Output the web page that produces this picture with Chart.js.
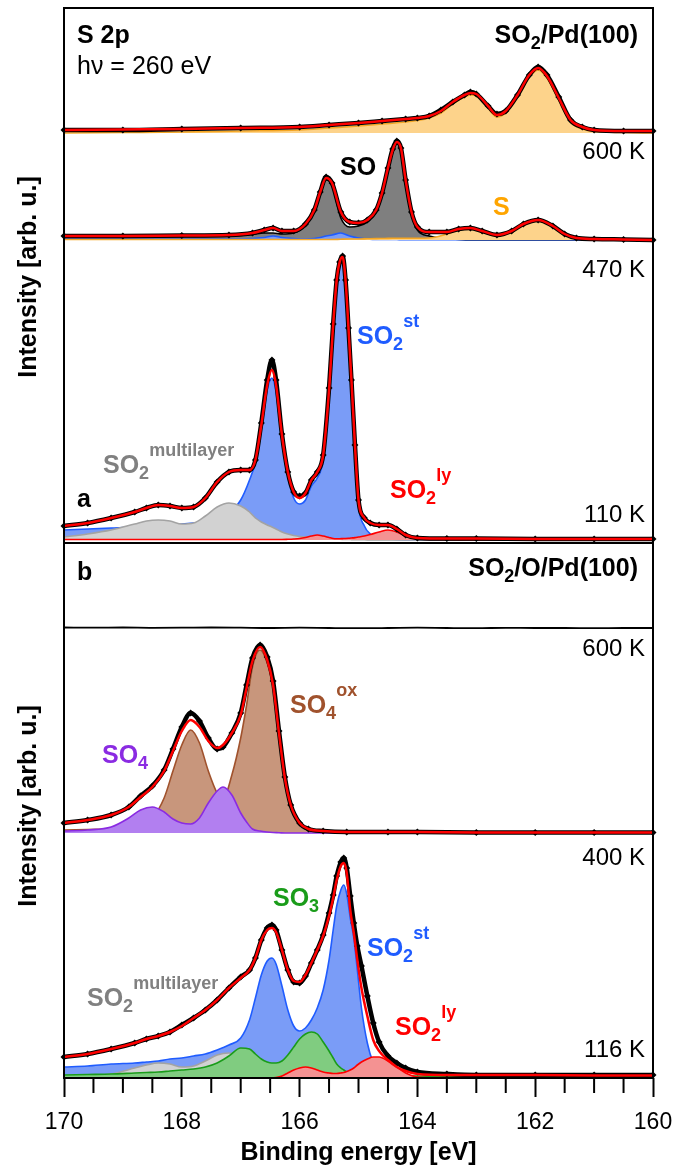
<!DOCTYPE html>
<html>
<head>
<meta charset="utf-8">
<title>S 2p XPS – SO2 on Pd(100)</title>
<script src="https://cdn.jsdelivr.net/npm/chart.js@4.4.1/dist/chart.umd.min.js"></script>
<style>
  html, body { margin: 0; padding: 0; background: #fff; }
  #xps { display: block; }
</style>
</head>
<body>
<canvas id="xps" width="675" height="1166"></canvas>
<script>
// Binding energies (eV) and intensities (arb. u., height above each spectrum's own baseline)

// (a) SO2/Pd(100), top spectrum: atomic S only
const eA1 = [170, 169, 168, 167, 166, 165.5, 165, 164.6, 164.2, 164, 163.8, 163.6, 163.4, 163.2, 163.1, 163, 162.8, 162.65, 162.5, 162.3, 162.1, 161.95, 161.8, 161.6, 161.4, 161.2, 161, 160.5, 160];
const a1Data = [3, 3, 4, 5, 6, 8, 10, 12, 14, 15, 17, 23, 31, 38, 41, 39, 27, 19, 22, 38, 58, 66, 58, 36, 13, 6, 3, 2, 2];
const a1Fit = [3, 3.5, 4, 5, 6, 8, 10, 12, 14, 15, 17, 22, 31, 38, 40, 39, 27, 18, 22, 38, 58, 65, 57, 35, 13, 6, 3, 2, 2];
const a1S = [0, 0.5, 1, 2, 3, 5, 7, 9, 11, 12.5, 15, 20, 29, 36, 38, 37, 25, 16, 20, 36, 56, 63, 55, 33, 11, 4, 1.5, 0.5, 0];

// (a) 600 K: SO + S
const eA2 = [170, 169, 168, 167.2, 166.8, 166.6, 166.45, 166.3, 166.1, 165.9, 165.75, 165.65, 165.55, 165.45, 165.3, 165.15, 165, 164.85, 164.7, 164.6, 164.5, 164.42, 164.35, 164.28, 164.2, 164.1, 164, 163.8, 163.5, 163.3, 163.1, 162.9, 162.65, 162.4, 162.2, 161.95, 161.7, 161.5, 161.3, 161, 160.5, 160];
const a2Data = [4, 4, 4.5, 5, 7, 10, 12, 9, 9, 16, 30, 48, 63, 57, 28, 18, 17, 20, 30, 47, 72, 91, 99, 92, 60, 28, 13, 8, 8, 11, 12, 9, 5, 9, 16, 20, 14, 6, 2, 1, 0.5, 0];
const a2Fit = [4, 4, 4.5, 5, 7, 10, 12, 9, 9, 16, 30, 48, 62, 57, 28, 18, 17, 20, 30, 47, 72, 90, 98, 92, 60, 28, 13, 8, 8, 11, 12, 9, 5, 9, 16, 20, 14, 6, 2, 1, 0.5, 0];
const a2SO = [3, 3, 3.5, 4, 5.5, 7, 7, 6, 7, 15, 29, 46, 60, 55, 22, 13, 14, 18, 28, 45, 70, 88, 96, 90, 58, 26, 10, 4, 1.5, 0.5, 0, 0, 0, 0, 0, 0, 0, 0, 0, 0, 0, 0];
const a2St = [1, 1, 1, 1, 1.5, 2.5, 4, 2.5, 1.5, 1, 1.5, 2.5, 4, 5, 7, 4, 2, 1, 0.5, 0.5, 0.5, 0.5, 0.5, 0.3, 0.2, 0.2, 0.2, 0.2, 0.2, 0.2, 0.2, 0.2, 0.2, 0.2, 0.2, 0.2, 0.2, 0.2, 0.2, 0.2, 0.2, 0.2];
const a2S = [0.5, 0.5, 0.5, 0.5, 0.5, 0.5, 0.5, 0.5, 0.5, 0.5, 0.5, 0.5, 0.5, 0.5, 0.8, 1, 1, 1.2, 1.4, 1.5, 1.6, 1.7, 1.8, 1.8, 1.8, 1.8, 1.8, 2, 6, 10, 11, 8, 4, 8, 15, 19, 13, 5, 1.5, 0.5, 0.2, 0];

// (a) 110 K -> 470 K: SO2 species
const eA3 = [170, 169.6, 169.2, 168.8, 168.6, 168.4, 168.2, 168, 167.8, 167.6, 167.4, 167.2, 167, 166.85, 166.75, 166.65, 166.55, 166.47, 166.4, 166.3, 166.2, 166.1, 166, 165.9, 165.8, 165.7, 165.6, 165.5, 165.43, 165.37, 165.32, 165.27, 165.22, 165.17, 165.12, 165.06, 165, 164.9, 164.8, 164.65, 164.5, 164.35, 164.2, 164, 163.5, 163, 162, 161, 160];
const a3Data = [14, 17, 22, 28, 32, 35, 34, 32, 33, 42, 58, 68, 70, 70, 80, 117, 160, 180, 160, 106, 68, 48, 44, 47, 60, 68, 85, 152, 216, 260, 278, 284, 260, 212, 160, 95, 40, 22, 17, 15, 15, 11, 5, 2, 1.5, 1.5, 1, 1, 1];
const a3Fit = [14, 17, 22, 28, 32, 35, 34, 32, 33, 42, 58, 68, 70, 70, 80, 115, 155, 170, 155, 105, 68, 48, 42, 47, 60, 68, 85, 150, 215, 260, 278, 283, 260, 212, 160, 95, 40, 22, 17, 15, 15, 11, 5, 2, 1.5, 1.5, 1, 1, 1];
const a3St = [10, 11, 12, 13, 14, 15, 15, 16, 17, 18, 21, 27, 40, 60, 78, 112, 150, 162, 148, 100, 64, 42, 36, 40, 54, 62, 80, 145, 210, 255, 274, 280, 256, 208, 155, 90, 35, 14, 6, 2, 1, 0.5, 0.3, 0.2, 0, 0, 0, 0, 0];
const a3Multi = [3, 6, 10, 16, 19, 20, 19, 16, 17, 24, 33, 37, 34, 28, 22, 18, 15, 13, 11, 8, 6, 4.5, 3.5, 3, 2.5, 2, 1.5, 1, 1, 0.8, 0.7, 0.6, 0.5, 0.5, 0.4, 0.3, 0.2, 0.2, 0, 0, 0, 0, 0, 0, 0, 0, 0, 0, 0];
const a3Ly = [0.5, 0.5, 0.5, 0.5, 0.5, 0.5, 0.5, 0.5, 0.5, 0.5, 0.5, 0.5, 0.5, 0.5, 0.5, 0.5, 0.5, 0.5, 0.5, 0.5, 0.7, 1, 1.5, 2.5, 4, 5, 4, 2.5, 1.5, 1.3, 1.3, 1.4, 1.5, 1.7, 2, 2.4, 3, 4, 5.5, 8, 10, 8, 4, 1, 0.3, 0, 0, 0, 0];

// (b) SO2/O/Pd(100), top: nothing left
const eB1 = [170, 169.5, 169, 168.5, 168, 167.5, 167, 166.5, 166, 165.5, 165, 164.5, 164, 163.5, 163, 162.5, 162, 161.5, 161, 160.5, 160];
const b1Data = [0.5, 0.3, 0.5, 0.2, 0.3, 0.5, 0.3, 0, 0.3, 0, -0.2, 0, 0.3, 0, -0.2, 0.2, 0, 0, -0.2, 0, 0];

// (b) 600 K: sulfate
const eB2 = [170, 169.6, 169.2, 168.9, 168.7, 168.5, 168.3, 168.15, 168, 167.85, 167.7, 167.55, 167.4, 167.3, 167.15, 167, 166.9, 166.8, 166.67, 166.55, 166.45, 166.35, 166.25, 166.15, 166, 165.85, 165.6, 165.2, 164.5, 164, 163, 162, 161, 160];
const b2Data = [10, 13, 18, 26, 37, 47, 63, 84, 106, 120, 112, 95, 84, 86, 100, 120, 148, 175, 188, 176, 152, 102, 56, 28, 10, 4, 2, 1, 1, 1, 0.5, 0.5, 0.5, 0.5];
const b2Fit = [10, 13, 18, 26, 36, 46, 62, 82, 102, 113, 106, 92, 85, 88, 100, 118, 145, 172, 186, 173, 148, 100, 55, 28, 10, 4, 2, 1, 1, 1, 0.5, 0.5, 0.5, 0.5];
const b2Ox = [3, 3.5, 4, 5, 8, 15, 35, 62, 88, 103, 90, 62, 40, 34, 58, 95, 128, 166, 183, 170, 146, 98, 53, 26, 9, 3, 1.5, 0.5, 0, 0, 0, 0, 0, 0];
const b2So4 = [2, 3, 6, 15, 23, 26, 21, 14, 10, 9, 15, 30, 42, 46, 38, 20, 11, 4, 2, 1, 0.5, 0.3, 0, 0, 0, 0, 0, 0, 0, 0, 0, 0, 0, 0];

// (b) 116 K -> 400 K
const eB3 = [170, 169.6, 169.2, 168.8, 168.6, 168.4, 168.2, 168, 167.8, 167.6, 167.4, 167.2, 167, 166.85, 166.75, 166.65, 166.55, 166.47, 166.4, 166.3, 166.2, 166.1, 166, 165.9, 165.8, 165.7, 165.6, 165.5, 165.43, 165.37, 165.3, 165.25, 165.2, 165.14, 165.08, 165.02, 164.95, 164.85, 164.75, 164.65, 164.5, 164.35, 164.2, 164, 163.5, 163, 162, 161, 160];
const b3Data = [21, 24, 29, 35, 39, 42, 46, 53, 60, 68, 78, 90, 101, 108, 120, 138, 150, 153, 148, 128, 108, 96, 95, 102, 115, 128, 143, 165, 183, 202, 216, 220, 210, 182, 155, 132, 112, 82, 55, 36, 22, 15, 10, 6, 4, 3, 3, 3, 3];
const b3Fit = [21, 24, 29, 35, 39, 42, 46, 52, 60, 68, 78, 90, 100, 108, 120, 138, 148, 150, 146, 128, 108, 97, 96, 103, 115, 128, 142, 162, 180, 198, 212, 215, 205, 168, 145, 118, 90, 62, 38, 27, 18, 11, 7, 4, 3, 3, 3, 2.5, 2.5];
const b3St = [11, 12, 14, 15, 16, 17, 19, 20, 22, 24, 28, 33, 40, 58, 80, 103, 117, 120, 114, 92, 68, 52, 47, 50, 58, 70, 88, 118, 148, 172, 188, 193, 184, 160, 140, 108, 70, 35, 15, 6, 2, 1, 0.5, 0.3, 0, 0, 0, 0, 0];
const b3So3 = [3, 3.5, 4, 5, 5.5, 6, 7, 8, 9, 11, 15, 22, 30, 29, 24, 19, 16, 15, 15, 17, 23, 31, 39, 44, 46, 44, 36, 27, 20, 14, 10, 8, 6, 5, 4, 3.5, 3, 2.5, 2.5, 2, 2, 2, 2, 2, 1.5, 1.5, 1, 0.5, 0.5];
const b3Ly = [0, 0, 0, 0, 0, 0, 0, 0, 0, 0, 0, 0, 0, 0, 0, 0, 0, 0, 0.5, 2, 5, 8, 10, 11, 10, 8, 6, 5, 4.5, 4.5, 5, 5.5, 6.5, 8, 10, 13, 16, 19, 21, 21, 17, 11, 5, 1, 0, 0, 0, 0, 0];
const b3Multi = [1, 2, 4, 10, 13, 15, 14, 11, 12, 17, 23, 25, 21, 15, 11, 7, 5, 4, 3, 2, 1, 0.5, 0, 0, 0, 0, 0, 0, 0, 0, 0, 0, 0, 0, 0, 0, 0, 0, 0, 0, 0, 0, 0, 0, 0, 0, 0, 0, 0];

// x axis
const eMin = 160, eMax = 170, eStep = 2;

// vertical offset of each spectrum in the stack
const offsets = { a1: 945, a2: 838, a3: 538, b1: 450, b2: 245, b3: 0 };

const FONT = '"Liberation Sans", Arial, Helvetica, sans-serif';
const colors = {
    fit: '#ff0000',
    st: { line: '#1f5cff', fill: 'rgb(122,156,247)' },
    multi: { line: '#a3a3a3', fill: '#d2d2d2' },
    ly: { line: '#ff0000', fill: '#f49292' },
    so: { line: '#000000', fill: '#7f7f7f' },
    s: { line: '#f5a623', fill: '#fdd38b' },
    ox: { line: '#a0522d', fill: '#c8967c' },
    so4: { line: '#8a2be2', fill: '#b27ff0' },
    so3: { line: '#1a9c1a', fill: '#80cc80' }
};

function toPoints(energies, values, offset) {
    return energies.map((e, i) => ({ x: e, y: offset + values[i] }));
}

function measured(energies, values, offset) {
    return {
        data: toPoints(energies, values, offset),
        borderColor: '#000',
        borderWidth: 4.5,
        pointStyle: 'rectRot',
        pointRadius: 3.5,
        pointBackgroundColor: '#000',
        pointBorderWidth: 0,
        fill: false,
        clip: 5,
        order: 1
    };
}

function envelope(energies, values, offset) {
    return {
        data: toPoints(energies, values, offset),
        borderColor: colors.fit,
        borderWidth: 2.5,
        pointRadius: 0,
        fill: false,
        order: 0
    };
}

function component(energies, values, offset, style, order) {
    return {
        data: toPoints(energies, values, offset),
        borderColor: style.line,
        backgroundColor: style.fill,
        borderWidth: 1.6,
        pointRadius: 0,
        fill: { value: offset },
        order: order
    };
}

const datasets = [
    // (a)
    envelope(eA1, a1Fit, offsets.a1),
    measured(eA1, a1Data, offsets.a1),
    component(eA1, a1S, offsets.a1, colors.s, 2),

    envelope(eA2, a2Fit, offsets.a2),
    measured(eA2, a2Data, offsets.a2),
    component(eA2, a2S, offsets.a2, colors.s, 2),
    component(eA2, a2St, offsets.a2, colors.st, 3),
    component(eA2, a2SO, offsets.a2, colors.so, 4),

    envelope(eA3, a3Fit, offsets.a3),
    measured(eA3, a3Data, offsets.a3),
    component(eA3, a3Ly, offsets.a3, colors.ly, 2),
    component(eA3, a3Multi, offsets.a3, colors.multi, 3),
    component(eA3, a3St, offsets.a3, colors.st, 4),

    // (b)
    {
        data: toPoints(eB1, b1Data, offsets.b1),
        borderColor: '#000',
        borderWidth: 1.8,
        pointRadius: 0,
        fill: false,
        order: 1
    },

    envelope(eB2, b2Fit, offsets.b2),
    measured(eB2, b2Data, offsets.b2),
    component(eB2, b2So4, offsets.b2, colors.so4, 2),
    component(eB2, b2Ox, offsets.b2, colors.ox, 3),

    envelope(eB3, b3Fit, offsets.b3),
    measured(eB3, b3Data, offsets.b3),
    component(eB3, b3Ly, offsets.b3, colors.ly, 2),
    component(eB3, b3So3, offsets.b3, colors.so3, 3),
    component(eB3, b3Multi, offsets.b3, colors.multi, 4),
    component(eB3, b3St, offsets.b3, colors.st, 5)
];

// label with sub/superscripts: parts = [[text, ''|'sub'|'sup'], ...]
function chemWidth(ctx, parts, size, small) {
    let w = 0;
    parts.forEach(([t, kind]) => {
        ctx.font = 'bold ' + (kind ? small : size) + 'px ' + FONT;
        w += ctx.measureText(t).width;
    });
    return w;
}

function chem(ctx, x, y, parts, color, size = 25, small = 18) {
    ctx.fillStyle = color;
    ctx.textAlign = 'left';
    ctx.textBaseline = 'middle';
    let cx = x;
    parts.forEach(([t, kind]) => {
        ctx.font = 'bold ' + (kind ? small : size) + 'px ' + FONT;
        const dy = kind === 'sub' ? 8 : kind === 'sup' ? -15 : 0;
        ctx.fillText(t, cx, y + dy);
        cx += ctx.measureText(t).width;
    });
}

function text(ctx, str, x, y, font, align = 'left', color = '#000') {
    ctx.font = font;
    ctx.fillStyle = color;
    ctx.textAlign = align;
    ctx.textBaseline = 'middle';
    ctx.fillText(str, x, y);
}

const decorations = {
    id: 'decorations',
    afterDraw(chart) {
        const ctx = chart.ctx;
        const { left, right, top, bottom } = chart.chartArea;
        const xs = chart.scales.x;
        ctx.save();

        // minor ticks every 0.5 eV
        ctx.strokeStyle = '#000';
        ctx.lineWidth = 2;
        for (let e = eMin + 0.5; e < eMax; e += 0.5) {
            if (e % eStep === 0) continue;
            const px = xs.getPixelForValue(e);
            ctx.beginPath();
            ctx.moveTo(px, bottom);
            ctx.lineTo(px, bottom + 15);
            ctx.stroke();
        }

        // frame and panel divider
        ctx.strokeRect(left, top, right - left, bottom - top);
        ctx.beginPath();
        ctx.moveTo(left, 543);
        ctx.lineTo(right, 543);
        ctx.stroke();

        // axis titles
        text(ctx, 'Binding energy [eV]', (left + right) / 2, 1153, 'bold 25px ' + FONT, 'center');
        [277, 806].forEach(cy => {
            ctx.save();
            ctx.translate(29, cy);
            ctx.rotate(-Math.PI / 2);
            text(ctx, 'Intensity [arb. u.]', 0, 0, 'bold 25px ' + FONT, 'center');
            ctx.restore();
        });

        // panel headers
        text(ctx, 'S 2p', 77, 36, 'bold 25px ' + FONT);
        text(ctx, 'h\u03bd = 260 eV', 77, 67, '25px ' + FONT);
        text(ctx, 'a', 77, 500, 'bold 25px ' + FONT);
        text(ctx, 'b', 77, 573, 'bold 25px ' + FONT);
        const titleA = [['SO', ''], ['2', 'sub'], ['/Pd(100)', '']];
        const titleB = [['SO', ''], ['2', 'sub'], ['/O/Pd(100)', '']];
        chem(ctx, 638 - chemWidth(ctx, titleA, 25, 18), 36, titleA, '#000');
        chem(ctx, 638 - chemWidth(ctx, titleB, 25, 18), 569, titleB, '#000');

        // temperatures
        const tFont = '24px ' + FONT;
        [['600 K', 152], ['470 K', 270], ['110 K', 515], ['600 K', 649], ['400 K', 858], ['116 K', 1050]]
            .forEach(([t, y]) => text(ctx, t, 645, y, tFont, 'right'));

        // species
        chem(ctx, 340, 168, [['SO', '']], '#000');
        chem(ctx, 493, 208, [['S', '']], '#ffa500');
        chem(ctx, 357, 337, [['SO', ''], ['2', 'sub'], ['st', 'sup']], colors.st.line);
        chem(ctx, 103, 466, [['SO', ''], ['2', 'sub'], ['multilayer', 'sup']], '#808080');
        chem(ctx, 390, 491, [['SO', ''], ['2', 'sub'], ['ly', 'sup']], '#ff0000');
        chem(ctx, 290, 706, [['SO', ''], ['4', 'sub'], ['ox', 'sup']], colors.ox.line);
        chem(ctx, 102, 756, [['SO', ''], ['4', 'sub']], colors.so4.line);
        chem(ctx, 273, 899, [['SO', ''], ['3', 'sub']], colors.so3.line);
        chem(ctx, 367, 949, [['SO', ''], ['2', 'sub'], ['st', 'sup']], colors.st.line);
        chem(ctx, 87, 999, [['SO', ''], ['2', 'sub'], ['multilayer', 'sup']], '#808080');
        chem(ctx, 395, 1028, [['SO', ''], ['2', 'sub'], ['ly', 'sup']], '#ff0000');

        ctx.restore();
    }
};

Chart.defaults.font.family = FONT;

new Chart(document.getElementById('xps'), {
    type: 'line',
    data: { datasets: datasets },
    options: {
        responsive: false,
        animation: false,
        devicePixelRatio: 1,
        layout: { padding: { left: 64, right: 22, top: 8, bottom: 0 } },
        elements: { line: { cubicInterpolationMode: 'monotone' } },
        plugins: {
            legend: { display: false },
            tooltip: { enabled: false }
        },
        scales: {
            x: {
                type: 'linear',
                reverse: true,
                min: eMin,
                max: eMax,
                afterFit(scale) {
                    scale.height = 88;
                    scale.paddingLeft = 0;
                    scale.paddingRight = 0;
                },
                border: { display: false },
                grid: {
                    drawOnChartArea: false,
                    drawTicks: true,
                    tickLength: 19,
                    tickWidth: 2,
                    tickColor: '#000'
                },
                ticks: {
                    stepSize: eStep,
                    padding: 12,
                    color: '#000',
                    font: { size: 23 },
                    maxRotation: 0
                }
            },
            y: {
                display: false,
                min: 0,
                max: 1070
            }
        }
    },
    plugins: [decorations]
});
</script>
</body>
</html>
